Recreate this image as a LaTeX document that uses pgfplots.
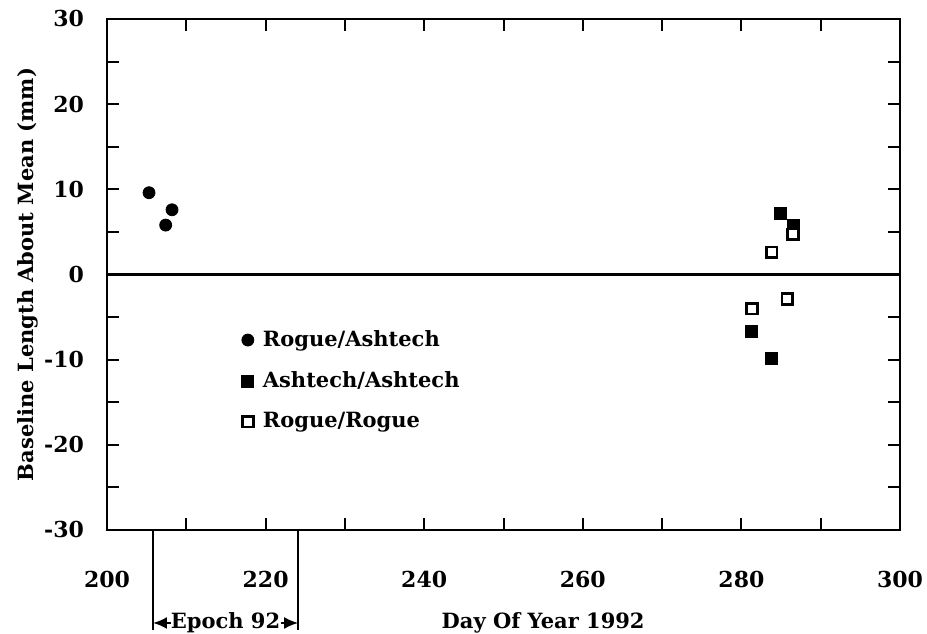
\documentclass[border=0pt]{standalone}
\usepackage{pgfplots}
\pgfplotsset{compat=1.18}
\usepackage{fontspec}
\setmainfont{DejaVu Serif}
\usetikzlibrary{calc,arrows.meta}
\begin{document}
\begin{tikzpicture}[font=\bfseries\fontsize{10.5}{12}\selectfont]
\begin{axis}[
  name=ax,
  scale only axis,
  width=396.5pt, height=255.5pt,
  xmin=200, xmax=300, ymin=-30, ymax=30,
  xtick={200,220,...,300},
  minor xtick={210,230,...,290},
  ytick={-30,-20,...,30},
  minor ytick={-25,-15,...,25},
  major tick length=6pt, minor tick length=6pt,
  tick style={line width=1pt, black},
  tick align=inside,
  axis line style={line width=1.3pt},
  xticklabel style={yshift=-17pt},
  yticklabel style={xshift=-8pt},
  /pgf/number format/assume math mode=true,
  ticklabel style={font=\bfseries\fontsize{11}{12}\selectfont},
  ylabel={Baseline Length About Mean (mm)},
  ylabel style={font=\bfseries\fontsize{10.5}{12}\selectfont, yshift=-4pt},
  clip=false,
  legend style={draw=none, fill=none, at={(axis cs:216.2,-5.6)}, anchor=north west,
    row sep=7pt, font=\bfseries\fontsize{10.5}{12}\selectfont,
    /tikz/every odd column/.append style={column sep=2.5pt}},
  legend cell align=left,
]
\addplot[only marks, mark=*, mark size=3pt, black] coordinates {
  (205.3,9.6) (208.2,7.6) (207.4,5.8)
};
\addlegendentry{Rogue/Ashtech}
\addplot[only marks, mark=square*, mark size=3pt, black] coordinates {
  (284.9,7.2) (286.5,5.8) (281.3,-6.7) (283.8,-9.8)
};
\addlegendentry{Ashtech/Ashtech}
\addplot[only marks, mark=square*, mark size=2.7pt, draw=black, fill=white, line width=1.4pt] coordinates {
  (286.5,4.7) (283.8,2.6) (281.3,-4.0) (285.8,-2.9)
};
\addlegendentry{Rogue/Rogue}
\draw[line width=1.3pt] (axis cs:200,0) -- (axis cs:300,0);
\coordinate (bl) at (rel axis cs:0,0);
\coordinate (tr) at (rel axis cs:1,1);
\coordinate (e1) at (axis cs:205.8,-30);
\coordinate (e2) at (axis cs:224.1,-30);
\coordinate (dl) at (axis cs:255,-30);
\end{axis}
\draw[line width=1pt] (e1) -- ($(e1)+(0pt,-50pt)$);
\draw[line width=1pt] (e2) -- ($(e2)+(0pt,-50pt)$);
\node[inner sep=0pt] (ep) at ($(e1)!0.5!(e2)+(0pt,-46.5pt)$) {Epoch 92};
\draw[-{Latex[length=7pt,width=6pt]}, line width=1pt] (ep.west) -- ($(e1)+(0pt,-46.5pt)$);
\draw[-{Latex[length=7pt,width=6pt]}, line width=1pt] (ep.east) -- ($(e2)+(0pt,-46.5pt)$);
\node at ($(dl)+(0pt,-46.5pt)$) {Day Of Year 1992};
\pgfresetboundingbox
\path[use as bounding box] ($(bl)+(-53.5pt,-52pt)$) rectangle ($(tr)+(13.5pt,9.5pt)$);
\end{tikzpicture}
\end{document}
